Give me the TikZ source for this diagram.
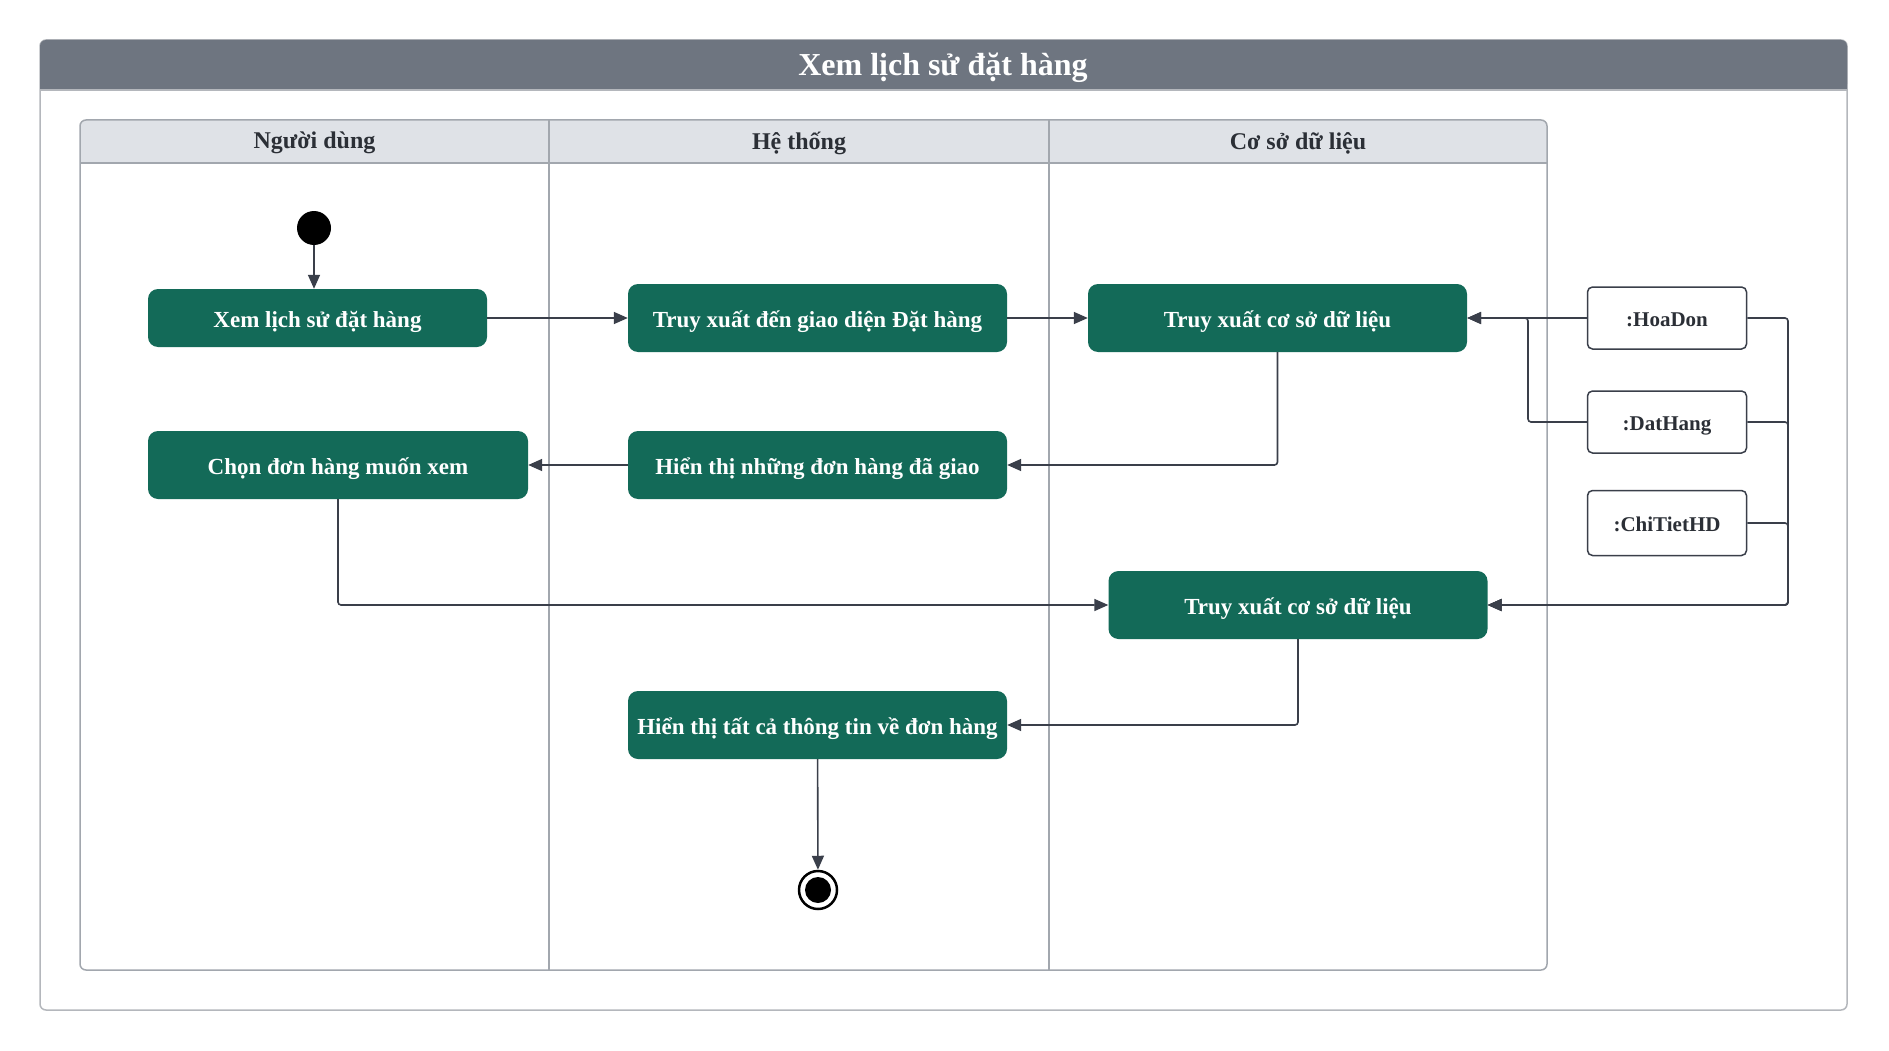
\documentclass[tikz,border=0pt]{standalone}
\usepackage{fontspec}
\setmainfont{Liberation Serif}
\usetikzlibrary{arrows.meta}

\definecolor{actgreen}{HTML}{136A58}
\definecolor{linecol}{HTML}{3A3F4A}
\definecolor{titlebar}{HTML}{6E7580}
\definecolor{lanehead}{HTML}{DFE2E7}
\definecolor{laneline}{HTML}{A2A7AE}
\definecolor{framecol}{HTML}{B4B7BC}
\definecolor{labeltext}{HTML}{2B2F36}

\begin{document}
\begin{tikzpicture}[x=1pt,y=-1pt,
  act/.style={rectangle, rounded corners=10pt, fill=actgreen, text=white,
    font=\fontsize{23}{27}\selectfont\bfseries, minimum width=379pt,
    minimum height=68pt, inner sep=0pt, text height=22pt, text depth=4pt},
  obj/.style={rectangle, rounded corners=5pt, draw=linecol, line width=1.5pt,
    fill=white, text=labeltext, font=\fontsize{21}{25}\selectfont\bfseries,
    minimum width=159pt, minimum height=62pt, inner sep=0pt,
    text height=19pt, text depth=3pt},
  flow/.style={draw=linecol, line width=1.6pt, rounded corners=3pt,
    -{Triangle[length=14pt,width=12pt]}},
  lanelabel/.style={text=labeltext, font=\fontsize{24}{28}\selectfont\bfseries},
  initial/.style={circle, fill=black, minimum size=34pt, inner sep=0pt},
  final/.style={circle, draw=black, line width=2.5pt, fill=white,
    minimum size=38pt, inner sep=0pt,
    path picture={\fill[black] (path picture bounding box.center) circle (13pt);}}
]
\useasboundingbox (0,0) rectangle (1889,1051);
\fill[white] (0,0) rectangle (1889,1051);

% outer frame with title bar
\draw[framecol, line width=1.5pt, rounded corners=6pt] (40,40) rectangle (1847,1010);
\fill[titlebar, rounded corners=6pt] (40,40) rectangle (1847,90);
\fill[titlebar] (40,70) rectangle (1847,90);
\draw[framecol, line width=1.5pt] (40,90) -- (1847,90);
\node[text=white, font=\fontsize{32}{36}\selectfont\bfseries] (title) at (943,68) {Xem lịch sử đặt hàng};

% swimlane pool
\fill[lanehead, rounded corners=6pt] (80,120) rectangle (1547,163);
\fill[lanehead] (80,140) rectangle (1547,163);
\draw[laneline, line width=1.5pt, rounded corners=6pt] (80,120) rectangle (1547,970);
\draw[laneline, line width=1.5pt] (80,163) -- (1547,163);
\draw[laneline, line width=1.5pt] (549,120) -- (549,970);
\draw[laneline, line width=1.5pt] (1049,120) -- (1049,970);
\node[lanelabel] (lane1) at (314.5,143) {Người dùng};
\node[lanelabel] (lane2) at (799,143) {Hệ thống};
\node[lanelabel] (lane3) at (1298,143) {Cơ sở dữ liệu};

% activities
\node[initial] (start) at (314,228) {};
\node[act, minimum width=339pt, minimum height=58pt] (A) at (317.5,318) {Xem lịch sử đặt hàng};
\node[act] (B) at (817.5,318) {Truy xuất đến giao diện Đặt hàng};
\node[act] (C) at (1277.5,318) {Truy xuất cơ sở dữ liệu};
\node[act, minimum width=380pt] (D) at (338,465) {Chọn đơn hàng muốn xem};
\node[act] (E) at (817.5,465) {Hiển thị những đơn hàng đã giao};
\node[act] (F) at (1298,605) {Truy xuất cơ sở dữ liệu};
\node[act] (G) at (817.5,725) {Hiển thị tất cả thông tin về đơn hàng};
\node[final] (end) at (818,890) {};

% data objects
\node[obj] (hoadon) at (1667,318) {:HoaDon};
\node[obj] (dathang) at (1667,422) {:DatHang};
\node[obj, minimum height=65pt] (chitiet) at (1667,523) {:ChiTietHD};

% bend points of the object connectors
\coordinate (busL) at (1528,318);
\coordinate (busR) at (1788,605);

% control flow
\draw[flow] (start) -- (start |- A.north);
\draw[flow] (A) -- (B);
\draw[flow] (B) -- (C);
\draw[flow] (C.south) |- (E.east);
\draw[flow] (E) -- (D);
\draw[flow] (D.south) |- (F.west);
\draw[flow] (F.south) |- (G.east);
\draw[flow] (G) -- (end);

% object flow
\draw[flow] (hoadon.west) -- (C.east);
\draw[flow] (dathang.west) -| (busL) -- (C.east);
\draw[flow] (hoadon.east) -| (busR) -- (F.east);
\draw[flow] (dathang.east) -| (busR) -- (F.east);
\draw[flow] (chitiet.east) -| (busR) -- (F.east);
\end{tikzpicture}
\end{document}
